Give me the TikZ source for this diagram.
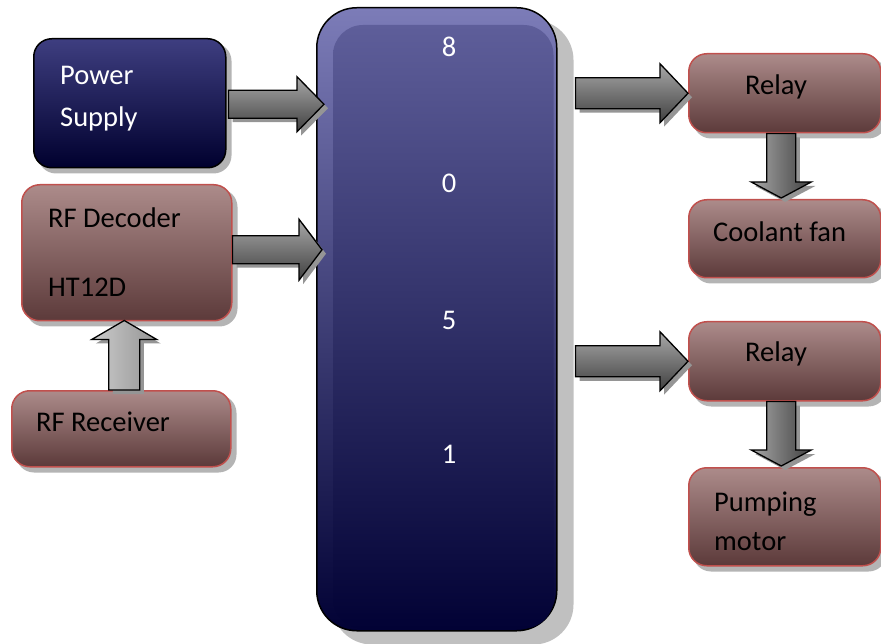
\documentclass[tikz,border=0pt]{standalone}
\usepackage{fontspec}
\setmainfont{Carlito}
\usetikzlibrary{calc}
\pgfdeclarelayer{bg}
\pgfsetlayers{bg,main}
\definecolor{browntop}{HTML}{AC8B8A}
\definecolor{brownbot}{HTML}{5C3A3A}
\definecolor{boxred}{HTML}{C0504D}
\definecolor{pstop}{HTML}{3E3E80}
\definecolor{psbot}{HTML}{00002E}
\definecolor{cpurim}{HTML}{7C7CB8}
\definecolor{cputop}{HTML}{5E5E9A}
\definecolor{cpubot}{HTML}{020235}
\definecolor{shadowc}{HTML}{B4B4B4}
\definecolor{cpushadow}{HTML}{C0C0C0}
\definecolor{arrlight}{HTML}{A8A8A8}
\definecolor{arrdark}{HTML}{404040}
\definecolor{arrshadow}{HTML}{959595}
\newcommand\barrow[6]{%
  \coordinate (bA) at ($(#3)!#6!(#2)$);
  \coordinate (q1) at ($(#2)!#4!90:(#3)$);
  \coordinate (q2) at ($(bA)!#4!90:(#3)$);
  \coordinate (q3) at ($(bA)!#5!90:(#3)$);
  \coordinate (q4) at ($(bA)!#5!-90:(#3)$);
  \coordinate (q5) at ($(bA)!#4!-90:(#3)$);
  \coordinate (q6) at ($(#2)!#4!-90:(#3)$);
  \fill[arrshadow] ($(q1)+(4,4)$) -- ($(q2)+(4,4)$) -- ($(q3)+(4,4)$) -- ($(#3)+(4,4)$) -- ($(q4)+(4,4)$) -- ($(q5)+(4,4)$) -- ($(q6)+(4,4)$) -- cycle;
  \path[#1] (q1) -- (q2) -- (q3) -- (#3) -- (q4) -- (q5) -- (q6) -- cycle;
}
\begin{document}
\begin{tikzpicture}[x=1pt,y=-1pt,
  box/.style={rectangle, rounded corners=18pt, line width=1.5pt, inner sep=0pt, anchor=north west},
  brownbox/.style={box, draw=boxred, top color=browntop, bottom color=brownbot},
  bluebox/.style={box, draw=black, top color=pstop, bottom color=psbot},
  txt/.style={anchor=base west, inner sep=0pt, font=\fontsize{28.5}{34}\selectfont},
  wtxt/.style={txt, text=white},
  digit/.style={anchor=base, inner sep=0pt, text=white, font=\fontsize{28.5}{34}\selectfont},
  harrow/.style={draw=black, line width=1.3pt, line join=miter, top color=arrlight, bottom color=arrdark},
  varrow/.style={draw=black, line width=1.3pt, line join=miter, left color=arrlight, right color=arrdark},
  uarrow/.style={draw=black, line width=1.3pt, line join=miter, left color=black!20, right color=black!42},
]
\useasboundingbox (0,0) rectangle (881,644);

% central block
\node[box, rounded corners=40pt, draw=black, top color=cpurim, bottom color=cpubot,
      minimum width=240pt, minimum height=623pt] (cpu) at (316,7) {};
\shade[top color=cputop, bottom color=cpubot, rounded corners=30pt]
  ($(cpu.north west)+(17,18)$) rectangle ($(cpu.south east)+(-4,-3)$);

% left blocks
\node[bluebox, minimum width=192pt, minimum height=129pt] (ps) at (33,38) {};
\node[brownbox, minimum width=210pt, minimum height=136pt] (dec) at (21,184) {};
\node[brownbox, minimum width=219pt, minimum height=76pt] (rx) at (11,390) {};

% right blocks
\node[brownbox, minimum width=192pt, minimum height=79pt] (r1) at (688,53) {};
\node[brownbox, minimum width=192pt, minimum height=78pt] (cf) at (688,199) {};
\node[brownbox, minimum width=192pt, minimum height=79pt] (r2) at (688,321) {};
\node[brownbox, minimum width=192pt, minimum height=98pt] (pm) at (688,467) {};

% shadows
\begin{pgfonlayer}{bg}
  \fill[cpushadow, rounded corners=40pt] ($(cpu.north west)+(16,13)$) rectangle ($(cpu.south east)+(16,13)$);
  \foreach \n in {ps,dec,rx,r1,cf,r2,pm}
    \fill[shadowc, rounded corners=18pt] ($(\n.north west)+(5,5)$) rectangle ($(\n.south east)+(5,5)$);
\end{pgfonlayer}

% texts
\node[wtxt] (pst1) at (60,85) {Power};
\node[wtxt] (pst2) at (60,127) {Supply};
\node[txt] (dect1) at (48,228) {RF Decoder};
\node[txt] (dect2) at (48,297) {HT12D};
\node[txt] (rxt) at (36,431) {RF Receiver};
\node[txt] (r1t) at (745,95) {Relay};
\node[txt] (cft) at (713,242) {Coolant fan};
\node[txt] (r2t) at (745,362) {Relay};
\node[txt] (pmt1) at (714,511) {Pumping};
\node[txt] (pmt2) at (714,550) {motor};
\node[digit] (d8) at (449,57) {8};
\node[digit] (d0) at (449,193) {0};
\node[digit] (d5) at (449,330) {5};
\node[digit] (d1) at (449,463) {1};

% block arrows
\coordinate (a1s) at ($(ps.east)+(2,1)$);
\coordinate (a1t) at ($(ps.east -| cpu.west)+(8,1)$);
\barrow{harrow}{a1s}{a1t}{14pt}{27.5pt}{27pt}
\coordinate (a2s) at ($(dec.east)+(0,-3)$);
\coordinate (a2t) at ($(dec.east -| cpu.west)+(6,-3)$);
\barrow{harrow}{a2s}{a2t}{14pt}{30.5pt}{23pt}
\coordinate (a3s) at ($(r1.west -| cpu.east)+(18,0)$);
\barrow{harrow}{a3s}{r1.west}{15.5pt}{29.5pt}{28pt}
\coordinate (a4s) at ($(r2.west -| cpu.east)+(18,0)$);
\barrow{harrow}{a4s}{r2.west}{15.5pt}{29.5pt}{28pt}
\coordinate (a5s) at ($(r1.south)+(-3.5,0)$);
\coordinate (a5t) at ($(cf.north)+(-3.5,-1)$);
\barrow{varrow}{a5s}{a5t}{14.5pt}{30pt}{16pt}
\coordinate (a6s) at ($(r2.south)+(-3.5,0)$);
\coordinate (a6t) at ($(pm.north)+(-3.5,-1)$);
\barrow{varrow}{a6s}{a6t}{14.5pt}{30pt}{16pt}
\coordinate (a7s) at ($(rx.north)+(3,0)$);
\coordinate (a7t) at ($(dec.south)+(-2.5,-1)$);
\barrow{uarrow}{a7s}{a7t}{15.5pt}{32.5pt}{19pt}
\end{tikzpicture}
\end{document}
